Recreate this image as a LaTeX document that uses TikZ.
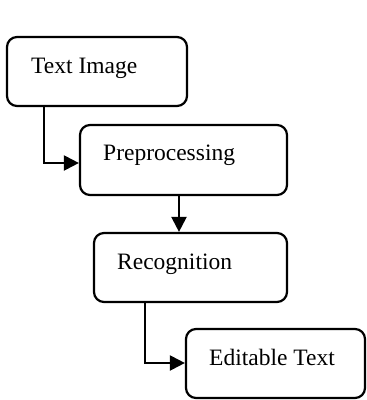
\documentclass[tikz,border=0pt]{standalone}
\usepackage{fontspec}
\setmainfont{Liberation Serif}
\usetikzlibrary{arrows.meta}
\begin{document}
\begin{tikzpicture}[x=1pt,y=-1pt,
  box/.style={draw,line width=2.2pt,rounded corners=10pt,inner sep=0pt},
  lbl/.style={anchor=base west,inner sep=0pt,font=\fontsize{23.5}{28}\selectfont},
  arr/.style={line width=2.2pt,-{Triangle[length=15pt,width=15pt]}}]
\useasboundingbox (0,0) rectangle (367,400);
\node[box,minimum width=180pt,minimum height=69pt] (b1) at (97,71.5) {};
\node[box,minimum width=207pt,minimum height=70pt] (b2) at (183.5,160) {};
\node[box,minimum width=193pt,minimum height=69pt] (b3) at (190.5,267.5) {};
\node[box,minimum width=179pt,minimum height=69pt] (b4) at (275.5,363.5) {};
\node[lbl] (t1) at (31,73) {Text Image};
\node[lbl] (t2) at (103,160) {Preprocessing};
\node[lbl] (t3) at (117,269) {Recognition};
\node[lbl] (t4) at (209,365) {Editable Text};
\coordinate (c1) at (44,163);
\coordinate (c2) at (179,0);
\coordinate (c3) at (145,363);
\draw[arr] (c1 |- b1.south) -- (c1) -- (c1 -| b2.west);
\draw[arr] (c2 |- b2.south) -- (c2 |- b3.north);
\draw[arr] (c3 |- b3.south) -- (c3) -- (c3 -| b4.west);
\end{tikzpicture}
\end{document}
